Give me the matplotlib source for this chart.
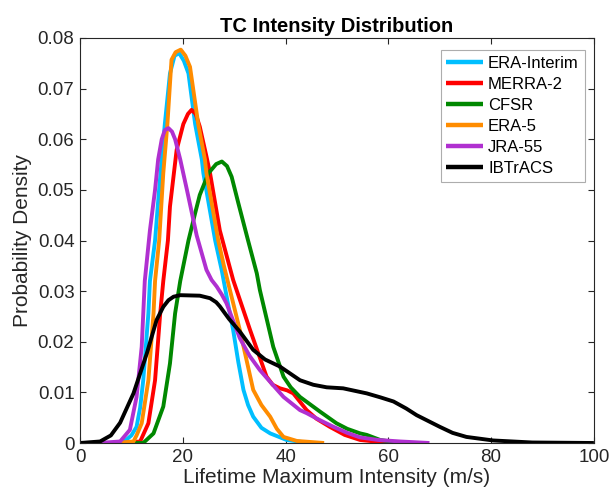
import matplotlib
matplotlib.use("Agg")
import matplotlib.pyplot as plt

plt.rcParams['font.family'] = ['Liberation Sans', 'DejaVu Sans']

# values (wind speed in m/s, density)
era_i_x = [6, 8.6, 10.0, 11.0, 11.7, 12.3, 13.3, 13.6, 14.6, 15.3, 15.9, 16.5, 17.5, 18.4, 19.3, 20.2, 21.1, 22.4,
           23.7, 24.0, 26.3, 27.6, 28.7, 29.8, 30.8, 31.8, 32.7, 33.7, 35.3, 37.0, 40.2, 44.7]
era_i_y = [0, 0.0003, 0.0015, 0.0032, 0.007, 0.0124, 0.0256, 0.032, 0.040, 0.049, 0.056, 0.063, 0.073, 0.0765, 0.077,
           0.0755, 0.073, 0.063, 0.056, 0.0533, 0.040, 0.034, 0.028, 0.0223, 0.016, 0.0105, 0.0075, 0.0052, 0.003,
           0.0019, 0.0006, 0]

merra_x = [8, 11.7, 13.3, 14.6, 15.6, 16.2, 17.1, 17.5, 18.8, 20.1, 21.0, 21.7, 22.5, 23.3, 24.6, 25.3, 27.2, 29.8,
           33.1, 36.3, 37.5, 38.9, 40.3, 41.5, 44.1, 46.0, 48.6, 51.5, 54.5, 60.3]
merra_y = [0, 0.0003, 0.0039, 0.0124, 0.0256, 0.032, 0.040, 0.0467, 0.0579, 0.063, 0.065, 0.0658, 0.065, 0.0625,
           0.0566, 0.0533, 0.042, 0.0322, 0.0223, 0.0131, 0.0115, 0.0108, 0.0104, 0.0098, 0.0065, 0.0048, 0.0032,
           0.0016, 0.0006, 0]

cfsr_x = [8, 12.3, 14.3, 16.2, 17.5, 18.5, 19.5, 21.1, 22.4, 23.3, 25.0, 26.5, 27.6, 28.6, 29.5, 30.8, 32.7, 34.4,
          35.0, 37.6, 39.6, 41.0, 42.8, 46.7, 49.9, 52.0, 54.5, 55.8, 58.4, 62.3]
cfsr_y = [0, 0, 0.0019, 0.0072, 0.0157, 0.0256, 0.032, 0.040, 0.0454, 0.049, 0.0533, 0.0551, 0.0556, 0.0547, 0.0526,
          0.0474, 0.040, 0.0335, 0.0302, 0.019, 0.0131, 0.011, 0.0091, 0.0062, 0.0039, 0.0028, 0.0019, 0.0016,
          0.0006, 0]

era5_x = [7, 10.4, 11.0, 12.0, 13.3, 14.3, 14.6, 15.4, 16.2, 17.0, 17.8, 18.6, 19.6, 20.5, 21.4, 23.0, 24.3, 24.6,
          26.9, 28.0, 31.1, 33.7, 35.3, 37.0, 38.3, 39.6, 42.2, 47.5]
era5_y = [0, 0.0003, 0.0015, 0.0039, 0.0124, 0.0256, 0.032, 0.040, 0.0533, 0.063, 0.0757, 0.0772, 0.0777, 0.0765,
          0.0743, 0.063, 0.056, 0.0533, 0.040, 0.035, 0.0223, 0.0105, 0.0075, 0.0052, 0.0028, 0.0012, 0.0004, 0]

jra_x = [2, 5, 7.8, 9.7, 11.0, 12.0, 12.6, 13.6, 14.6, 15.2, 15.9, 16.5, 17.2, 17.9, 18.5, 19.5, 20.8, 22.7, 24.6,
         25.6, 26.6, 27.6, 28.5, 31.1, 33.0, 35.0, 37.5, 39.6, 42.8, 44.1, 46.5, 49.3, 52.0, 54.5, 58.0, 62.3, 68.0]
jra_y = [0, 0.0001, 0.0003, 0.0026, 0.0091, 0.019, 0.032, 0.042, 0.050, 0.056, 0.060, 0.0618, 0.0622, 0.0615, 0.060,
         0.056, 0.050, 0.041, 0.0342, 0.0322, 0.0309, 0.0293, 0.0276, 0.0207, 0.0172, 0.0144, 0.0115, 0.0091, 0.0065,
         0.0059, 0.0046, 0.0032, 0.002, 0.0011, 0.0006, 0.0003, 0]

ibt_x = [0, 3.9, 6.0, 7.8, 10.4, 13.0, 14.9, 16.2, 17.2, 18.2, 19.5, 23.3, 25.3, 26.5, 27.2, 29.0, 31.1, 33.7, 36.0,
         38.9, 42.8, 45.4, 48.0, 51.2, 55.8, 58.5, 61.0, 63.5, 65.5, 70.0, 72.5, 75.2, 80.4, 88.0, 100]
ibt_y = [0, 0.0003, 0.0015, 0.004, 0.0098, 0.0177, 0.0243, 0.0269, 0.0282, 0.0289, 0.0292, 0.0291, 0.0286, 0.0278,
         0.027, 0.0245, 0.022, 0.0184, 0.0165, 0.0151, 0.0124, 0.0115, 0.011, 0.0108, 0.0098, 0.009, 0.0082, 0.0068,
         0.0055, 0.0032, 0.002, 0.0012, 0.0005, 0.0001, 0]

names = ['ERA-Interim', 'MERRA-2', 'CFSR', 'ERA-5', 'JRA-55', 'IBTrACS']
colors = ['#00BFFF', '#FF0000', '#008800', '#FF8C00', '#B030D0', '#000000']

x_ticks = [0, 20, 40, 60, 80, 100]
y_ticks = [0, 0.01, 0.02, 0.03, 0.04, 0.05, 0.06, 0.07, 0.08]
y_ticklabels = ['0', '0.01', '0.02', '0.03', '0.04', '0.05', '0.06', '0.07', '0.08']

fig = plt.figure(figsize=(6.11, 5.0), dpi=100)
ax = fig.add_axes([0.131, 0.114, 0.841, 0.81])

series = [(era_i_x, era_i_y), (merra_x, merra_y), (cfsr_x, cfsr_y),
          (era5_x, era5_y), (jra_x, jra_y), (ibt_x, ibt_y)]
for (xs, ys), name, c in zip(series, names, colors):
    ax.plot(xs, ys, '-', color=c, lw=2.8, label=name, solid_joinstyle='round', solid_capstyle='butt')

ax.set_xlim(0, 100)
ax.set_ylim(0, 0.08)
ax.set_xticks(x_ticks)
ax.set_yticks(y_ticks)
ax.set_yticklabels(y_ticklabels)
ax.tick_params(direction='in', top=True, right=True, labelsize=13.5, colors='#262626', length=4, width=0.8, pad=4)
for s in ax.spines.values():
    s.set_color('#262626')
    s.set_linewidth(0.8)

ax.set_xlabel('Lifetime Maximum Intensity (m/s)', fontsize=15, color='#262626', labelpad=2)
ax.set_ylabel('Probability Density', fontsize=15, color='#262626', labelpad=4)
ax.set_title('TC Intensity Distribution', fontsize=14.5, fontweight='bold', pad=4)

leg = ax.legend(loc='upper right', bbox_to_anchor=(0.982, 0.97), fontsize=12, frameon=True,
                fancybox=False, handlelength=2.2, borderpad=0.35, labelspacing=0.36, handletextpad=0.3,
                borderaxespad=0.0)
leg.get_frame().set_edgecolor('#999999')
leg.get_frame().set_linewidth(0.8)
for ln in leg.get_lines():
    ln.set_linewidth(3.2)

fig.savefig('out.png', dpi=100)
